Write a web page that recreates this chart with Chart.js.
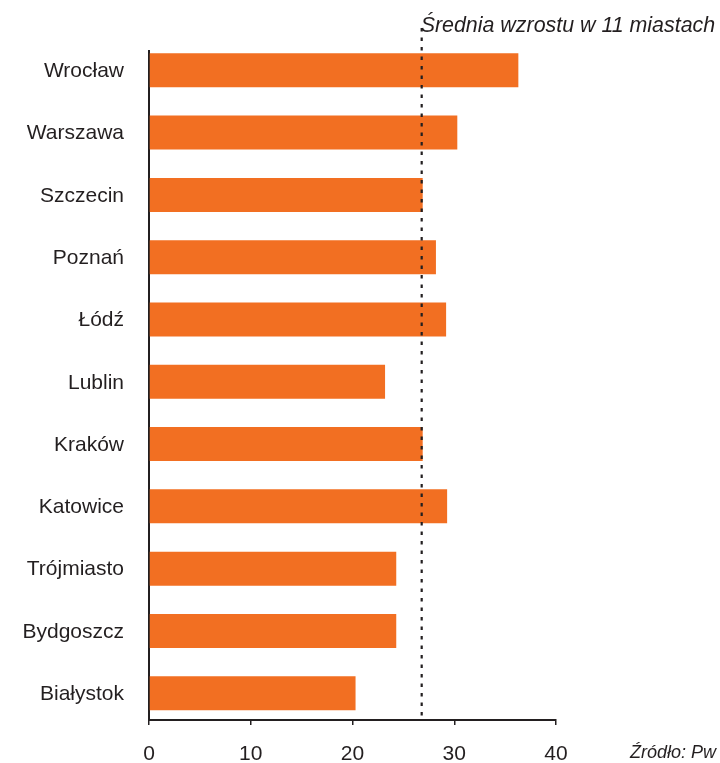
<!DOCTYPE html>
<html>
<head>
<meta charset="utf-8">
<script src="https://cdn.jsdelivr.net/npm/chart.js@4/dist/chart.umd.min.js"></script>
<style>
  html, body { margin: 0; padding: 0; background: #fff; }
  #wrap { width: 720px; height: 763px; position: relative; }
</style>
</head>
<body>
<div id="wrap"><canvas id="c" width="720" height="763"></canvas></div>
<script>
  // Data
  const cities = ['Wrocław', 'Warszawa', 'Szczecin', 'Poznań', 'Łódź', 'Lublin', 'Kraków', 'Katowice', 'Trójmiasto', 'Bydgoszcz', 'Białystok'];
  const growth = [36.3, 30.3, 26.9, 28.2, 29.2, 23.2, 26.9, 29.3, 24.3, 24.3, 20.3];
  const xTicks = [0, 10, 20, 30, 40];
  const average = 26.8;
  const avgLabel = 'Średnia wzrostu w 11 miastach';
  const sourceLabel = 'Źródło: Pw';

  const ink = '#231f20';
  const orange = '#f26f22';
  const fontFamily = '"Liberation Sans", Arial, Helvetica, sans-serif';

  // dotted average line + its caption + source note
  const extras = {
    id: 'extras',
    afterDatasetsDraw(chart){
      const {ctx, chartArea} = chart;
      const x = chart.scales.x.getPixelForValue(average);
      ctx.save();
      ctx.strokeStyle = ink;
      ctx.lineWidth = 2.2;
      ctx.setLineDash([3.5, 6]);
      ctx.beginPath();
      ctx.moveTo(x, 28);
      ctx.lineTo(x, chartArea.bottom);
      ctx.stroke();
      ctx.setLineDash([]);
      ctx.fillStyle = ink;
      ctx.textBaseline = 'alphabetic';
      ctx.textAlign = 'left';
      ctx.font = 'italic 21.4px ' + fontFamily;
      ctx.fillText(avgLabel, x - 1, 31.5);
      ctx.font = 'italic 18px ' + fontFamily;
      ctx.fillText(sourceLabel, 630, 758);
      ctx.restore();
    }
  };

  new Chart(document.getElementById('c').getContext('2d'), {
    type: 'bar',
    data: {
      datasets: [{
        data: cities.map((c, i) => ({x: growth[i], y: i})),
        backgroundColor: orange,
        borderWidth: 0,
        categoryPercentage: 1,
        barPercentage: 0.546
      }]
    },
    options: {
      indexAxis: 'y',
      responsive: false,
      animation: false,
      devicePixelRatio: 1,
      layout: { padding: { top: 51, right: 164, bottom: 0, left: 0 } },
      plugins: { legend: { display: false }, tooltip: { enabled: false } },
      scales: {
        x: {
          type: 'linear',
          min: 0, max: 40,
          afterBuildTicks: s => { s.ticks = xTicks.map(v => ({value: v})); },
          afterFit: s => { s.height = 43; },
          grid: { drawOnChartArea: false, drawTicks: true, tickLength: 5, color: ink, lineWidth: 1.5 },
          border: { display: true, color: ink, width: 2 },
          ticks: { color: ink, font: { family: fontFamily, size: 21 }, padding: 17, maxRotation: 0 }
        },
        y: {
          type: 'linear',
          reverse: true,
          offset: false,
          min: -0.31, max: 10.43,
          afterBuildTicks: s => { s.ticks = cities.map((c, i) => ({value: i})); },
          afterFit: s => { s.width = 149; },
          grid: { display: false, drawTicks: false, offset: false },
          border: { display: true, color: ink, width: 2 },
          ticks: {
            color: ink,
            autoSkip: false,
            font: { family: fontFamily, size: 21 },
            padding: 25,
            labelOffset: 1,
            callback: v => cities[v]
          }
        }
      }
    },
    plugins: [extras]
  });
</script>
</body>
</html>
